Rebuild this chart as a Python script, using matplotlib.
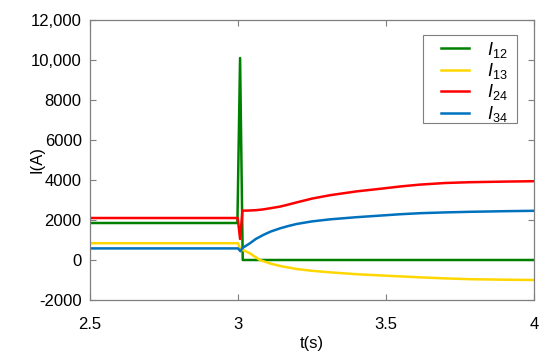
import matplotlib
matplotlib.use("Agg")
import matplotlib.pyplot as plt
from matplotlib.ticker import FixedLocator, FixedFormatter
from matplotlib.patches import Rectangle

plt.rcParams['font.family'] = ['Liberation Sans', 'DejaVu Sans']
plt.rcParams['mathtext.fontset'] = 'custom'
plt.rcParams['mathtext.rm'] = 'Liberation Sans'
plt.rcParams['mathtext.it'] = 'Liberation Sans:italic'

# I12 (green)
t12 = [2.5, 2.998, 3.007, 3.016, 4.0]
i12 = [1850, 1850, 10100, 0, 0]

# I13 (yellow)
t13 = [2.5, 3.0, 3.008, 3.02, 3.04, 3.074, 3.11, 3.142, 3.198, 3.25, 3.311, 3.4, 3.48, 3.55, 3.615, 3.7, 3.784, 3.9, 4.0]
i13 = [840, 840, 520, 480, 333, 0, -180, -300, -450, -540, -617, -710, -770, -820, -867, -920, -960, -985, -1000]

# I24 (red)
t24 = [2.5, 2.999, 3.007, 3.015, 3.03, 3.06, 3.085, 3.11, 3.142, 3.17, 3.198, 3.25, 3.311, 3.4, 3.48, 3.55, 3.615, 3.7, 3.784, 3.9, 4.0]
i24 = [2100, 2100, 1050, 2470, 2470, 2490, 2530, 2590, 2670, 2770, 2880, 3070, 3240, 3430, 3560, 3680, 3770, 3850, 3890, 3920, 3940]

# I34 (blue)
t34 = [2.5, 3.0, 3.008, 3.015, 3.04, 3.06, 3.085, 3.11, 3.142, 3.17, 3.198, 3.25, 3.311, 3.4, 3.48, 3.55, 3.615, 3.7, 3.784, 3.9, 4.0]
i34 = [580, 580, 440, 600, 833, 1050, 1250, 1420, 1583, 1700, 1800, 1930, 2033, 2140, 2220, 2290, 2340, 2380, 2410, 2440, 2460]

xticks = [2.5, 3, 3.5, 4]
xtick_labels = ['2.5', '3', '3.5', '4']
yticks = [-2000, 0, 2000, 4000, 6000, 8000, 10000, 12000]
ytick_labels = ['-2000', '0', '2000', '4000', '6000', '8000', '10,000', '12,000']

W, H = 550, 356
fig = plt.figure(figsize=(5.5, 3.56), dpi=100)
ax = fig.add_axes([90/W, 56/H, 444/W, 280/H])

lw = 1.8
ax.plot(t12, i12, color='#008000', lw=lw, label=r'$\mathit{I}_{\mathrm{12}}$')
ax.plot(t13, i13, color='#FFD700', lw=lw, label=r'$\mathit{I}_{\mathrm{13}}$')
ax.plot(t24, i24, color='#FF0000', lw=lw, label=r'$\mathit{I}_{\mathrm{24}}$')
ax.plot(t34, i34, color='#0072BD', lw=lw, label=r'$\mathit{I}_{\mathrm{34}}$')

ax.set_xlim(2.5, 4)
ax.set_ylim(-2000, 12000)
ax.xaxis.set_major_locator(FixedLocator(xticks))
ax.xaxis.set_major_formatter(FixedFormatter(xtick_labels))
ax.yaxis.set_major_locator(FixedLocator(yticks))
ax.yaxis.set_major_formatter(FixedFormatter(ytick_labels))

for s in ax.spines.values():
    s.set_color('#7f7f7f')
    s.set_linewidth(0.9)
ax.tick_params(direction='in', length=4, width=0.8, color='#7f7f7f',
               top=True, right=True, labelsize=12, labelcolor='black')
ax.tick_params(axis='x', pad=12)
ax.tick_params(axis='y', pad=6)

ax.set_xlabel('t(s)', fontsize=12)
ax.xaxis.set_label_coords(0.5, -0.13)
ax.xaxis.label.set_va('top')
ax.set_ylabel('I(A)', fontsize=12)
ax.yaxis.set_label_coords(-0.119, 0.5)
ax.yaxis.label.set_va('center')

# legend frame drawn separately
frame = Rectangle((423/W, (H-123)/H), 94/W, 88/H, transform=fig.transFigure,
                  facecolor='white', edgecolor='#7f7f7f', linewidth=0.8, zorder=4)
fig.patches.append(frame)

leg = fig.legend(*ax.get_legend_handles_labels(), loc='upper left',
                 bbox_to_anchor=(436/W, (H-35)/H), bbox_transform=fig.transFigure,
                 fontsize=13, handlelength=1.55, frameon=False,
                 borderpad=0.25, labelspacing=0.08, handletextpad=1.0, borderaxespad=0)
leg.set_zorder(5)

fig.savefig('out.png', dpi=100)
